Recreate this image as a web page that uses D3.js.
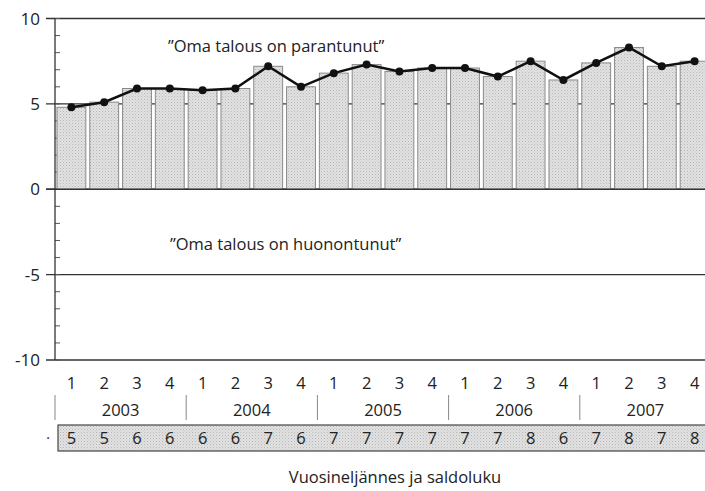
<!DOCTYPE html>
<html>
<head>
<meta charset="utf-8">
<script src="https://cdn.jsdelivr.net/npm/d3@7"></script>
<style>
  body { margin: 0; background: #fff; }
  svg text { font-family: "Open Sans", "DejaVu Sans Condensed", sans-serif; fill: #222; }
</style>
</head>
<body>
<svg id="chart" width="705" height="491"></svg>
<script>
//Data: quarters, years, balance figures
var quarters = ["1","2","3","4","1","2","3","4","1","2","3","4","1","2","3","4","1","2","3","4"];
var years = ["2003", "2004", "2005", "2006", "2007"];
var values = [4.8, 5.1, 5.9, 5.9, 5.8, 5.9, 7.2, 6.0, 6.8, 7.3, 6.9, 7.1, 7.1, 6.6, 7.5, 6.4, 7.4, 8.3, 7.2, 7.5];
var saldo = [5, 5, 6, 6, 6, 6, 7, 6, 7, 7, 7, 7, 7, 7, 8, 6, 7, 8, 7, 8];
var yTicks = [10, 5, 0, -5, -10];

var svg = d3.select("#chart");
var plotLeft = 55, plotRight = 711, plotTop = 18.5, plotBottom = 360;

var x = d3.scaleBand().domain(d3.range(values.length)).range([plotLeft, plotRight]).paddingInner(0.12).paddingOuter(0.06);
var xStep = d3.scaleBand().domain(d3.range(values.length)).range([plotLeft, plotRight]);
var y = d3.scaleLinear().domain([-10, 10]).range([plotBottom, plotTop]);

//stipple pattern for the bars
var defs = svg.append("defs");
var pat = defs.append("pattern").attr("id", "dots").attr("width", 3).attr("height", 3).attr("patternUnits", "userSpaceOnUse");
pat.append("rect").attr("width", 3).attr("height", 3).attr("fill", "#e2e2e2");
pat.append("rect").attr("x", 0).attr("y", 0).attr("width", 1).attr("height", 1).attr("fill", "#b5b5b5");
pat.append("rect").attr("x", 1.5).attr("y", 1.5).attr("width", 1).attr("height", 1).attr("fill", "#c4c4c4");

//gridlines
svg.selectAll(".grid").data(yTicks).enter().append("line")
    .attr("x1", plotLeft - 9).attr("x2", 705)
    .attr("y1", function(d) { return y(d); }).attr("y2", function(d) { return y(d); })
    .attr("stroke", "#333").attr("stroke-width", 1.3);

//minor ticks
svg.selectAll(".minor").data(d3.range(-10, 11)).enter().append("line")
    .attr("x1", plotLeft).attr("x2", plotLeft + 5)
    .attr("y1", function(d) { return y(d); }).attr("y2", function(d) { return y(d); })
    .attr("stroke", "#555").attr("stroke-width", 1);

//bars
svg.selectAll(".bar").data(values).enter().append("rect")
    .attr("x", function(d, i) { return x(i); })
    .attr("y", function(d) { return y(d); })
    .attr("width", x.bandwidth())
    .attr("height", function(d) { return y(0) - y(d); })
    .attr("fill", "url(#dots)").attr("stroke", "#8a8a8a").attr("stroke-width", 1);

//zero line on top of bars
svg.append("line").attr("x1", plotLeft - 9).attr("x2", 705).attr("y1", y(0)).attr("y2", y(0))
    .attr("stroke", "#333").attr("stroke-width", 1.3);

//left axis line
svg.append("line").attr("x1", plotLeft).attr("x2", plotLeft).attr("y1", y(10)).attr("y2", y(-10))
    .attr("stroke", "#333").attr("stroke-width", 1.3);

//y labels
svg.selectAll(".ylab").data(yTicks).enter().append("text")
    .attr("x", 40).attr("y", function(d) { return y(d) + 6; })
    .attr("text-anchor", "end").attr("font-size", 17)
    .text(function(d) { return d; });

//line + dots
var lineGen = d3.line()
    .x(function(d, i) { return x(i) + x.bandwidth() / 2; })
    .y(function(d) { return y(d); });
svg.append("path").datum(values).attr("d", lineGen)
    .attr("fill", "none").attr("stroke", "#111").attr("stroke-width", 2.5);
svg.selectAll(".dot").data(values).enter().append("circle")
    .attr("cx", function(d, i) { return x(i) + x.bandwidth() / 2; })
    .attr("cy", function(d) { return y(d); })
    .attr("r", 4).attr("fill", "#111");

//annotations
svg.append("text").attr("x", 168).attr("y", 52).attr("font-size", 16.5)
    .text("\u201DOma talous on parantunut\u201D");
svg.append("text").attr("x", 170).attr("y", 250).attr("font-size", 16.5)
    .text("\u201DOma talous on huonontunut\u201D");

//quarter labels
svg.selectAll(".qlab").data(quarters).enter().append("text")
    .attr("x", function(d, i) { return xStep(i) + xStep.bandwidth() / 2; })
    .attr("y", 389).attr("text-anchor", "middle").attr("font-size", 16.5)
    .text(function(d) { return d; });

//year separators and labels
svg.selectAll(".ysep").data(years).enter().append("line")
    .attr("x1", function(d, i) { return xStep(i * 4); }).attr("x2", function(d, i) { return xStep(i * 4); })
    .attr("y1", 395).attr("y2", 420)
    .attr("stroke", "#888").attr("stroke-width", 1);
svg.selectAll(".yrlab").data(years).enter().append("text")
    .attr("x", function(d, i) { return xStep(i * 4) + xStep.bandwidth() * 2; })
    .attr("y", 416).attr("text-anchor", "middle").attr("font-size", 16.5)
    .text(function(d) { return d; });

//saldoluku row
svg.append("rect").attr("x", 58).attr("y", 425).attr("width", 660).attr("height", 26)
    .attr("fill", "url(#dots)").attr("stroke", "#444").attr("stroke-width", 1.2);
svg.append("text").attr("x", 48).attr("y", 443).attr("text-anchor", "middle").attr("font-size", 14).text("\u00B7");
svg.selectAll(".saldo").data(saldo).enter().append("text")
    .attr("x", function(d, i) { return xStep(i) + xStep.bandwidth() / 2; })
    .attr("y", 444).attr("text-anchor", "middle").attr("font-size", 16.5)
    .text(function(d) { return d; });

//axis title
svg.append("text").attr("x", 395).attr("y", 483).attr("text-anchor", "middle").attr("font-size", 16.5)
    .text("Vuosineljännes ja saldoluku");
</script>
</body>
</html>
